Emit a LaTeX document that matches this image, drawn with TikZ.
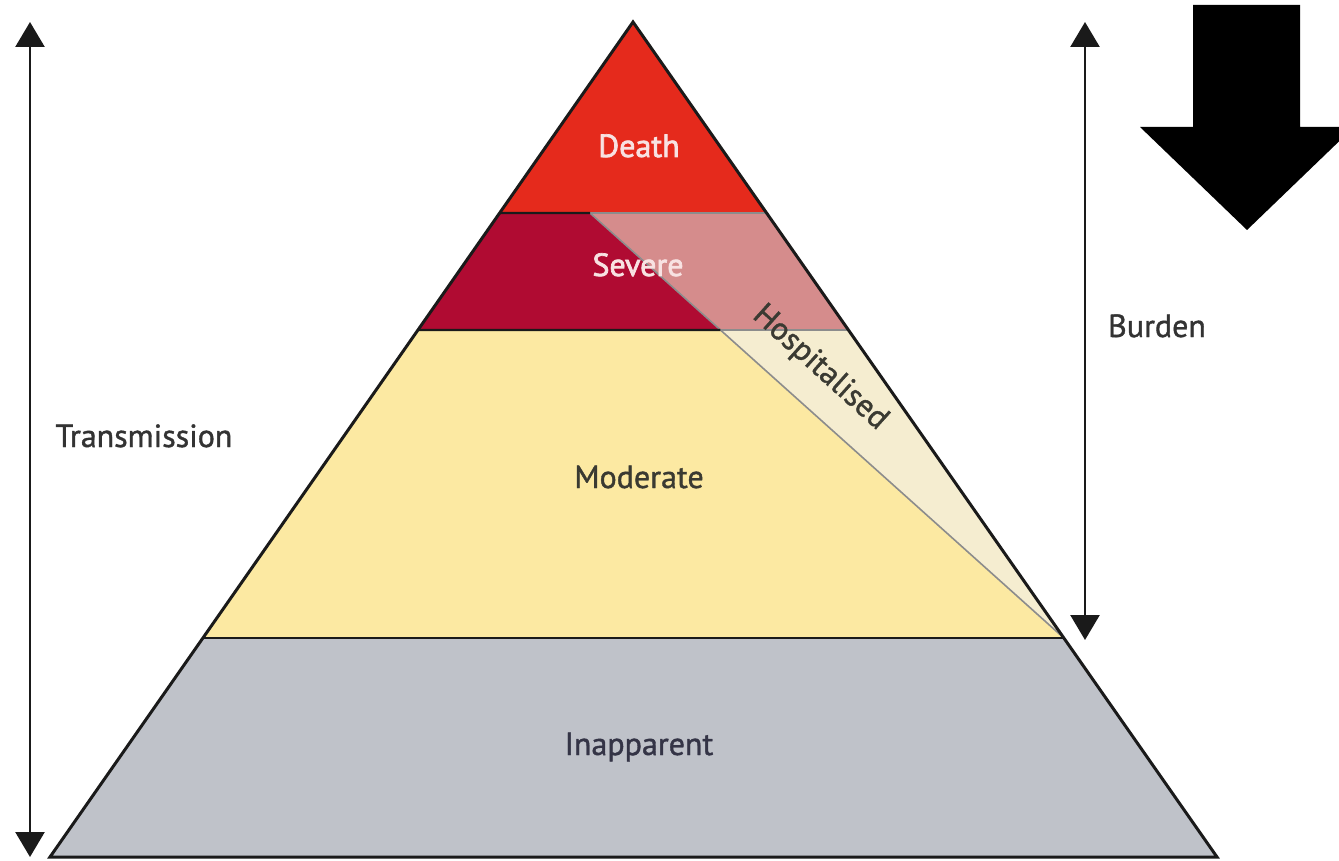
\documentclass[tikz,border=0pt]{standalone}
\usepackage{fontspec}
\setmainfont{PT Sans}
\newfontfamily\lblfont[FakeBold=1.2]{PT Sans}
\newfontfamily\lblboldfont[FakeBold=2.2]{PT Sans}
\usetikzlibrary{calc,arrows.meta}
\definecolor{deathred}{HTML}{E52A1C}
\definecolor{severecol}{HTML}{B00B32}
\definecolor{hosppink}{HTML}{D58C8C}
\definecolor{modyellow}{HTML}{FCE9A2}
\definecolor{hospbeige}{HTML}{F5EDD0}
\definecolor{inappgrey}{HTML}{BFC2C9}
\definecolor{outline}{HTML}{1A1A1A}
\definecolor{lighttext}{HTML}{F8E2E2}
\definecolor{darktext}{HTML}{3A3A32}
\tikzset{
  lbl/.style={font=\lblfont\fontsize{32}{36}\selectfont, anchor=base, inner sep=0pt},
  lblb/.style={font=\lblboldfont\fontsize{32}{36}\selectfont, anchor=base, inner sep=0pt},
  dblarrow/.style={draw=outline, line width=2.6pt, {Triangle[length=25pt,width=29pt]}-{Triangle[length=25pt,width=29pt]}},
  bandline/.style={draw=outline, line width=2.4pt},
  faintline/.style={draw=black!45, line width=1.6pt},
}
\begin{document}
\begin{tikzpicture}[x=1pt,y=-1pt]
\useasboundingbox (0,0) rectangle (1339,861);
\fill[white] (0,0) rectangle (1339,861);
% pyramid corners
\coordinate (A) at (633,22);
\coordinate (BL) at (50,857);
\coordinate (BR) at (1217,857);
\coordinate (L1) at ($(A)!0.2287!(BL)$);
\coordinate (R1) at ($(A)!0.2287!(BR)$);
\coordinate (L2) at ($(A)!0.3689!(BL)$);
\coordinate (R2) at ($(A)!0.3689!(BR)$);
\coordinate (L3) at ($(A)!0.7377!(BL)$);
\coordinate (R3) at ($(A)!0.7377!(BR)$);
\coordinate (D1) at (590,213);
\coordinate (X2) at (intersection of D1--R3 and L2--R2);
% fills
\fill[deathred] (A) -- (L1) -- (R1) -- cycle;
\fill[severecol] (L1) -- (D1) -- (X2) -- (L2) -- cycle;
\fill[hosppink] (D1) -- (R1) -- (R2) -- (X2) -- cycle;
\fill[modyellow] (L2) -- (X2) -- (R3) -- (L3) -- cycle;
\fill[hospbeige] (X2) -- (R2) -- (R3) -- cycle;
\fill[inappgrey] (L3) -- (R3) -- (BR) -- (BL) -- cycle;
% lines
\draw[faintline] (D1) -- (R1);
\draw[faintline] (X2) -- (R2);
\draw[faintline] (D1) -- (R3);
\draw[bandline] (L1) -- (D1);
\draw[bandline] (L2) -- (X2);
\draw[bandline] (L3) -- (R3);
\draw[draw=outline, line width=3pt, line join=miter] (A) -- (BL) -- (BR) -- cycle;
% labels
\node[lblb, text=lighttext] (death) at (639,157) {Death};
\node[lblb, text=lighttext] (severe) at (638,276) {Severe};
\node[lbl, text=darktext] (moderate) at (639,488) {Moderate};
\node[lbl, text=darktext!90!blue] (inapparent) at (639,755) {Inapparent};
\node[lbl, text=darktext, rotate=-42, anchor=center] (hosp) at (820,368) {Hospitalised};
\node[lbl, text=black!80] (transmission) at (144,447) {Transmission};
\node[lbl, text=black!80] (burden) at (1157,337) {Burden};
% side arrows
\coordinate (T1) at (30,22);
\coordinate (T2) at (30,857);
\coordinate (B1) at (1085,22);
\coordinate (B2) at (1085,640);
\draw[dblarrow] (T1) -- (T2);
\draw[dblarrow] (B1) -- (B2);
% big arrow
\fill[black] (1193,5) -- (1300,5) -- (1300,127) -- (1339,127) -- (1339,141.4) -- (1247,230) -- (1140,127) -- (1193,127) -- cycle;
\end{tikzpicture}
\end{document}
